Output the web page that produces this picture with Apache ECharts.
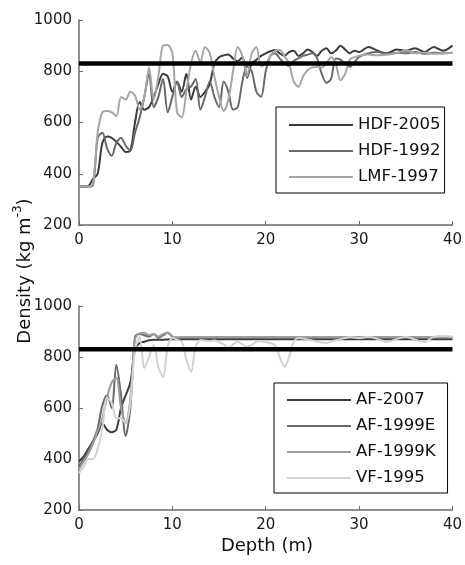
<!DOCTYPE html>
<html>
<head>
<meta charset="utf-8">
<script src="https://cdn.jsdelivr.net/npm/echarts@6/dist/echarts.min.js"></script>
<style>html,body{margin:0;padding:0;background:#fff}#c{width:465px;height:565px}</style>
</head>
<body>
<div id="c"></div>
<script>
// Depth (m)
const depth = [0,0.5,1,1.5,2,2.5,3,3.5,4,4.5,5,5.5,6,6.5,7,7.5,8,8.5,9,9.5,
  10,10.5,11,11.5,12,12.5,13,13.5,14,14.5,15,15.5,16,16.5,17,17.5,18,18.5,19,19.5,
  20,20.5,21,21.5,22,22.5,23,23.5,24,24.5,25,25.5,26,26.5,27,27.5,28,28.5,29,29.5,
  30,31,32,33,34,35,36,37,38,39,40];

// Top panel (kg m-3)
const hdf2005 = [350,350,352,380,400,520,545,540,525,505,
  485,490,600,680,650,660,700,750,790,780,
  720,760,720,790,690,740,700,720,750,830,
  855,862,865,850,840,855,775,830,845,860,
  870,878,883,870,860,875,880,860,870,885,
  875,860,880,890,870,880,900,885,870,880,
  875,895,880,870,885,880,890,875,895,880,900];
const hdf1992 = [350,350,350,355,540,560,500,470,520,540,
  510,490,560,620,700,790,660,700,770,640,
  700,760,700,730,740,770,650,700,760,700,
  660,760,720,650,660,760,820,800,720,700,
  800,860,870,850,830,820,840,850,860,865,
  870,850,790,755,770,850,845,830,818,835,
  856,870,875,868,872,870,875,868,872,870,872];
const lmf1997 = [350,350,350,360,560,640,645,640,625,700,
  690,720,705,650,700,815,690,780,900,902,
  870,640,620,720,830,880,835,895,870,780,
  700,645,690,800,895,860,780,870,895,820,
  830,860,880,883,860,830,760,740,780,805,
  815,817,815,830,855,830,765,790,845,855,
  860,865,862,865,870,882,870,872,868,870,872];

// Bottom panel (kg m-3)
const af2007 = [390,410,440,470,500,540,515,505,515,600,
  650,700,830,855,860,866,868,868,868,869,
  870,870,870,870,870,870,870,870,870,870,
  870,870,870,870,870,870,870,870,870,870,
  870,870,870,870,870,870,870,870,870,870,
  870,870,870,870,870,870,870,870,870,870,
  870,870,870,870,870,870,870,870,870,870,870];
const af1999E = [370,400,430,470,520,610,650,600,770,650,
  490,600,880,890,885,880,890,875,885,895,
  880,875,876,876,876,876,876,876,876,876,
  876,876,876,876,876,876,876,876,876,876,
  876,876,876,876,876,876,876,876,876,876,
  876,876,876,876,876,876,876,876,876,876,
  876,876,876,876,876,876,876,876,876,876,876];
const af1999K = [360,390,420,460,510,560,640,700,720,600,
  540,640,870,893,895,885,890,880,890,896,
  880,877,878,878,878,878,878,878,878,878,
  878,878,878,878,878,878,878,878,878,878,
  878,878,878,878,878,878,878,878,878,878,
  878,878,878,878,878,878,878,878,878,878,
  878,878,878,878,878,878,878,878,878,878,878];
const vf1995 = [345,370,400,400,440,520,640,620,560,560,
  540,620,830,878,757,800,847,760,722,840,
  875,868,860,790,741,840,867,865,862,865,
  859,850,835,850,860,850,839,848,860,862,
  859,855,845,800,761,800,860,875,872,868,
  865,860,857,855,860,866,870,874,878,876,
  874,879,870,859,870,879,868,859,879,882,880];

const refDensity = 830;
const xTicks = {min: 0, max: 40, interval: 10};
const yTicks = {min: 200, max: 1000, interval: 200};

const topNames = ['HDF-2005', 'HDF-1992', 'LMF-1997'];
const botNames = ['AF-2007', 'AF-1999E', 'AF-1999K', 'VF-1995'];

const FONT = 'DejaVu Sans';
function pairs(xs, ys) { return xs.map((x, i) => [x, ys[i]]); }

function xAx(g) {
  return {type: 'value', gridIndex: g, min: xTicks.min, max: xTicks.max, interval: xTicks.interval,
    axisLine: {onZero: false, lineStyle: {color: '#6a6a6a', width: 1.5}},
    axisTick: {inside: true, length: 4, lineStyle: {color: '#6a6a6a', width: 1}},
    axisLabel: {color: '#1a1a1a', fontSize: 15, fontFamily: FONT, margin: 8,
      formatter: function (v) { return String(v); }},
    splitLine: {show: false}};
}
function yAx(g) {
  return {type: 'value', gridIndex: g, min: yTicks.min, max: yTicks.max, interval: yTicks.interval,
    axisLine: {show: true, onZero: false, lineStyle: {color: '#6a6a6a', width: 1.5}},
    axisTick: {show: true, inside: true, length: 4, lineStyle: {color: '#6a6a6a', width: 1}},
    axisLabel: {color: '#1a1a1a', fontSize: 15, fontFamily: FONT, margin: 7,
      formatter: function (v) { return String(v); }},
    splitLine: {show: false}};
}
function line(name, xs, ys, color, g, z) {
  return {type: 'line', name: name, xAxisIndex: g, yAxisIndex: g, data: pairs(xs, ys),
    symbol: 'none', smooth: 0.3, color: color, z: z || 2,
    lineStyle: {color: color, width: 2}, animation: false};
}
function refLine(g) {
  return {type: 'line', name: 'ref' + g, xAxisIndex: g, yAxisIndex: g,
    data: [[xTicks.min, refDensity], [xTicks.max, refDensity]],
    symbol: 'none', color: '#000', z: 5, lineStyle: {color: '#000', width: 4.5}, animation: false};
}
function legend(names, left, top, pad) {
  return {data: names, orient: 'vertical', left: left, top: top, padding: pad,
    itemWidth: 64, itemHeight: 2, icon: 'rect', itemGap: 8,
    borderColor: '#000', borderWidth: 1, backgroundColor: '#fff',
    selectedMode: false,
    textStyle: {fontSize: 16.5, fontFamily: FONT, color: '#111', lineHeight: 18}};
}

const chart = echarts.init(document.getElementById('c'), null, {renderer: 'canvas'});
chart.setOption({
  animation: false,
  backgroundColor: '#fff',
  grid: [
    {left: 79, top: 20, width: 376, height: 205},
    {left: 79, top: 306, width: 376, height: 204}
  ],
  xAxis: [xAx(0), xAx(1)],
  yAxis: [yAx(0), yAx(1)],
  legend: [
    legend(topNames, 276, 107, [9, 4, 7, 13]),
    legend(botNames, 274, 383, [8, 12, 6, 13])
  ],
  graphic: [
    {type: 'text', x: 25, y: 271, rotation: Math.PI / 2,
      style: {text: '{a|Density (kg m}{s|-3}{a|)}', align: 'center', verticalAlign: 'middle',
        rich: {a: {fontSize: 18, fontFamily: FONT, fill: '#111', lineHeight: 26},
               s: {fontSize: 12, fontFamily: FONT, fill: '#111', verticalAlign: 'top', lineHeight: 14}}}},
    {type: 'text', x: 267, y: 546,
      style: {text: 'Depth (m)', align: 'center', verticalAlign: 'middle', fontSize: 18, fontFamily: FONT, fill: '#111'}}
  ],
  series: [
    line(topNames[0], depth, hdf2005, '#3c3c3c', 0, 2),
    line(topNames[1], depth, hdf1992, '#6a6a6a', 0, 3),
    line(topNames[2], depth, lmf1997, '#a6a6a6', 0, 4),
    refLine(0),
    line(botNames[0], depth, af2007, '#3c3c3c', 1, 2),
    line(botNames[1], depth, af1999E, '#6a6a6a', 1, 3),
    line(botNames[2], depth, af1999K, '#9c9c9c', 1, 3),
    line(botNames[3], depth, vf1995, '#d2d2d2', 1, 4),
    refLine(1)
  ]
});
</script>
</body>
</html>
